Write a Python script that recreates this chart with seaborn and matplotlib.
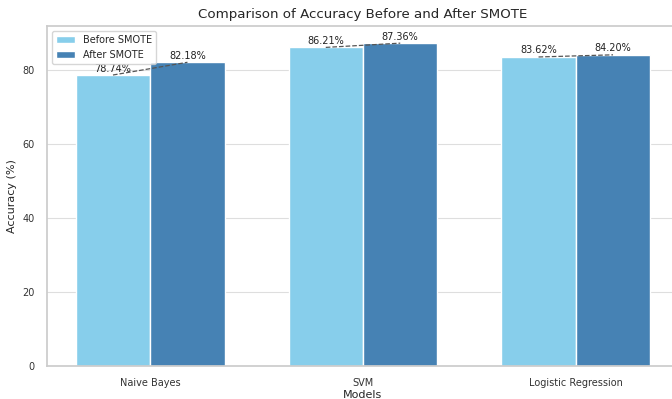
import numpy as np
import pandas as pd
import seaborn as sns
import matplotlib
matplotlib.use("Agg")
import matplotlib.pyplot as plt

# data
models = ["Naive Bayes", "SVM", "Logistic Regression"]
before_smote = [78.74, 86.21, 83.62]
after_smote = [82.18, 87.36, 84.20]
series_names = ["Before SMOTE", "After SMOTE"]

df = pd.DataFrame({
    "Model": models * 2,
    "Accuracy": before_smote + after_smote,
    "Stage": [series_names[0]] * len(models) + [series_names[1]] * len(models),
})

sns.set_theme(style="whitegrid", rc={"grid.color": "#dedede", "grid.linewidth": 0.8,
                                     "axes.edgecolor": "#cccccc"})
plt.rcParams['font.family'] = ['DejaVu Sans']

fig = plt.figure(figsize=(6.72, 3.99), dpi=100)
ax = fig.add_axes([47 / 672, 33 / 399, 632 / 672, 340 / 399])

sns.barplot(data=df, x="Model", y="Accuracy", hue="Stage",
            palette=["skyblue", "steelblue"], width=0.7, saturation=1,
            errorbar=None, ax=ax)

# percentage labels and dashed connectors between before/after tops
for cont in ax.containers:
    for bar in cont:
        h = bar.get_height()
        ax.text(bar.get_x() + bar.get_width() / 2, h + 0.4, f"{h:.2f}%",
                ha="center", va="bottom", fontsize=7, color="#222222")

b_bars, a_bars = ax.containers[0], ax.containers[1]
for bb, ab in zip(b_bars, a_bars):
    ax.plot([bb.get_x() + bb.get_width() / 2, ab.get_x() + ab.get_width() / 2],
            [bb.get_height(), ab.get_height()],
            ls="--", color="#555555", lw=0.9, zorder=5)

ax.set_title("Comparison of Accuracy Before and After SMOTE", fontsize=9.6, pad=6)
ax.set_xlabel("Models", fontsize=8, labelpad=1)
ax.set_ylabel("Accuracy (%)", fontsize=8)
ax.tick_params(axis="both", labelsize=7, pad=3, labelcolor="#333333")
ax.set_ylim(0, 92)
ax.set_yticks([0, 20, 40, 60, 80])
ax.set_xlim(-0.485, 2.485)
ax.legend(loc="upper left", fontsize=7, frameon=True, title=None)

fig.savefig("out.png", dpi=100)
